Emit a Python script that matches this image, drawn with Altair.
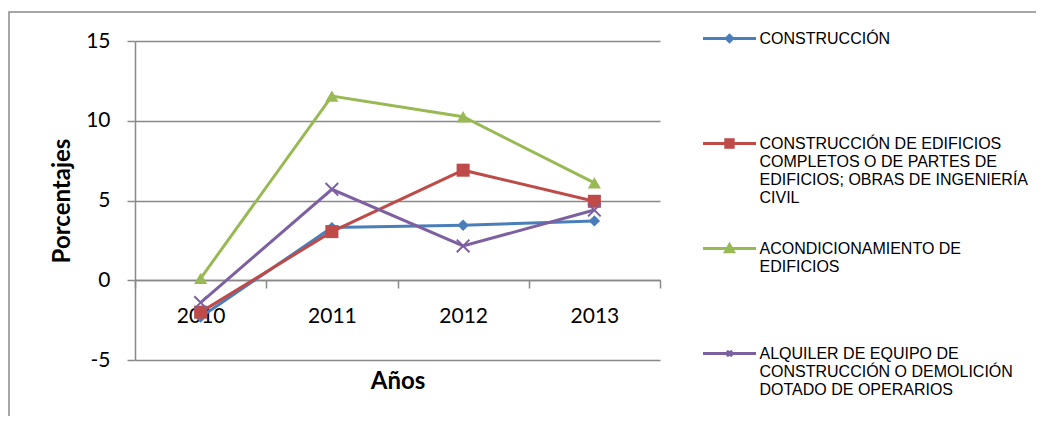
import altair as alt
import pandas as pd

years = ["2010", "2011", "2012", "2013"]

legend_lines = [
    ["CONSTRUCCIÓN"],
    ["CONSTRUCCIÓN DE EDIFICIOS", "COMPLETOS O DE PARTES DE", "EDIFICIOS; OBRAS DE INGENIERÍA", "CIVIL"],
    ["ACONDICIONAMIENTO DE", "EDIFICIOS"],
    ["ALQUILER DE EQUIPO DE", "CONSTRUCCIÓN O DEMOLICIÓN", "DOTADO DE OPERARIOS"],
]
series = ["|".join(l) for l in legend_lines]

construccion = [-2.3, 3.3, 3.45, 3.72]
edificios = [-2.0, 3.05, 6.9, 4.95]
acondicionamiento = [0.12, 11.55, 10.25, 6.1]
alquiler = [-1.4, 5.7, 2.15, 4.4]

values = [construccion, edificios, acondicionamiento, alquiler]
colors = ["#4A7EBB", "#BE4B48", "#98B954", "#7D60A0"]
GREY = "#898989"

rows = []
for s, vals in zip(series, values):
    for yr, v in zip(years, vals):
        rows.append({"serie": s, "year": yr, "value": v})
df = pd.DataFrame(rows)

x_enc = alt.X(
    "year:O",
    sort=years,
    scale=alt.Scale(type="band", paddingInner=0, paddingOuter=0),
    axis=alt.Axis(
        title="Años", titleFont="Lato", titleFontSize=24, titleFontWeight="bold",
        titleColor="black", titleX=262.5, titleY=101, titleBaseline="middle",
        titleAlign="center",
        labelFont="Lato", labelFontSize=21, labelColor="black", labelAngle=0,
        labelPadding=17, tickSize=8, tickColor=GREY, tickWidth=1.5,
        domainColor=GREY, domainWidth=1.5, tickBand="extent", offset=-80, grid=False,
    ),
)
y_enc = alt.Y(
    "value:Q",
    scale=alt.Scale(domain=[-5, 15], nice=False, zero=False),
    axis=alt.Axis(
        title="Porcentajes", titleFont="Lato", titleFontSize=24, titleFontWeight="bold",
        titleColor="black", titleAngle=270, titleX=-73, titleY=159.5,
        titleBaseline="middle", titleAlign="center",
        values=[-5, 0, 5, 10, 15],
        labelExpr="datum.value < 0 ? '-' + abs(datum.value) : '' + datum.value",
        labelFont="Lato", labelFontSize=21,
        labelColor="black", labelPadding=17, tickSize=8, tickColor=GREY,
        tickWidth=1.5, domainColor=GREY, domainWidth=1.5,
        grid=True, gridColor=GREY, gridWidth=1.5,
    ),
)

marker_shapes = [
    dict(shape="diamond", filled=True, size=130),
    dict(shape="square", filled=True, size=170),
    dict(shape="triangle-up", filled=True, size=170),
    dict(shape="M-1,-1L1,1M-1,1L1,-1", filled=False, size=160, strokeWidth=2),
]

legend_paths = [
    "M-1,0H1M0,-0.12L0.12,0L0,0.12L-0.12,0Z",
    "M-1,0H1M-0.14,-0.14H0.14V0.14H-0.14Z",
    "M-1,0H1M0,-0.14L0.15,0.12H-0.15Z",
    "M-1,0H1M-0.1,-0.1L0.1,0.1M-0.1,0.1L0.1,-0.1",
]

frame = alt.Chart(alt.Data(values=[{}])).mark_rect(
    fillOpacity=0, stroke=GREY, strokeWidth=1.5
).encode(
    x=alt.value(-126), x2=alt.value(1000), y=alt.value(-29), y2=alt.value(600)
)

layers = [frame]
for s, ms, c in zip(series, marker_shapes, colors):
    base = alt.Chart(df).transform_filter(alt.datum.serie == s)
    line = base.mark_line(strokeWidth=3, color=c).encode(x=x_enc, y=y_enc)
    pts = base.mark_point(opacity=1, color=c, **ms).encode(x=x_enc, y=y_enc)
    layers += [line, pts]

leg = alt.Legend(
    title=None, orient="none", legendX=566.5, legendY=-30.5,
    labelExpr="split(datum.label, '|')",
    labelFont="Liberation Sans", labelFontSize=16, labelColor="black",
    labelLimit=400, labelOffset=2, labelBaseline="middle",
    symbolSize=2809, symbolStrokeWidth=3, symbolOpacity=1,
    rowPadding=15, gridAlign="all", padding=0,
)
legend_layer = alt.Chart(df).mark_point(opacity=0, filled=True).encode(
    x=x_enc, y=y_enc,
    fill=alt.Fill("serie:N", scale=alt.Scale(domain=series, range=colors), legend=leg),
    stroke=alt.Stroke("serie:N", scale=alt.Scale(domain=series, range=colors), legend=leg),
    shape=alt.Shape("serie:N", scale=alt.Scale(domain=series, range=legend_paths), legend=leg),
)
layers.append(legend_layer)

chart = alt.layer(*layers).properties(
    width=525, height=319,
    autosize=alt.AutoSizeParams(type="none"),
    padding={"left": 127, "top": 33, "right": 376, "bottom": 56},
    background="white",
).configure_view(stroke=None)

chart.save("out.html", embed_options={"renderer": "svg", "actions": False})
